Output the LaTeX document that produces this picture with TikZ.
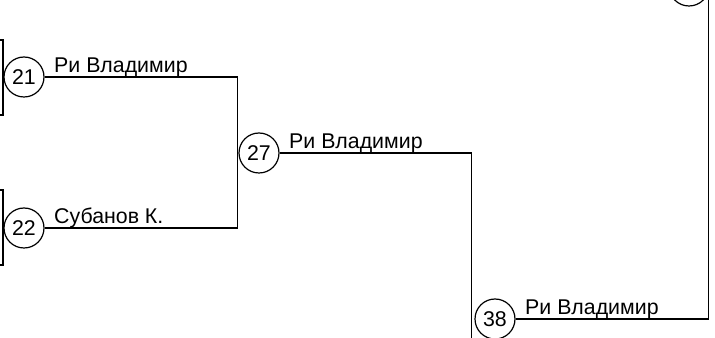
\documentclass[tikz,border=0pt]{standalone}
\usepackage{fontspec}
\setmainfont{Liberation Sans}
\usetikzlibrary{positioning}
\tikzset{every picture/.style={line width=0.9pt}}

\begin{document}
\begin{tikzpicture}[x=0.75pt,y=0.75pt,yscale=-1,xscale=1,
  match/.style={draw, circle, minimum size=30pt, inner sep=0pt, font=\fontsize{16}{19}\selectfont},
  player/.style={anchor=base west, inner sep=0.75pt, font=\fontsize{16}{19}\selectfont}]
\useasboundingbox (0,0) rectangle (715,338);
\clip (0,0) rectangle (715,338);

%Matches
\node [match] (m21) at (24,77) {21};
\node [match] (m22) at (24,228) {22};
\node [match] (m27) at (259,153) {27};
\node [match] (m38) at (495,319) {38};
\node [match] (m49) at (689,-14) {};

%Junctions
\coordinate (j27) at (237.5,153);
\coordinate (j38) at (471.5,319);
\coordinate (j49) at (708.5,-14);

%Left brackets (cut off)
\draw (0,40) -- (3,40) -- (3,115) -- (0,115);
\draw (0,190) -- (3,190) -- (3,265) -- (0,265);

%Lines
\draw (m21.east) -- (m21.east -| j27) -- (m22.east -| j27) -- (m22.east);
\draw (m27.east) -- (m27.east -| j38) -- (j38) -- (j38 |- 0,345);
\draw (m38.east) -- (m38.east -| j49) -- (j49);

%Names
\node [player] (n21) at ([xshift=6pt,yshift=-3.5pt]m21.east) {Ри Владимир};
\node [player] (n22) at ([xshift=6pt,yshift=-3.5pt]m22.east) {Субанов К.};
\node [player] (n27) at ([xshift=6pt,yshift=-3.5pt]m27.east) {Ри Владимир};
\node [player] (n38) at ([xshift=6pt,yshift=-3.5pt]m38.east) {Ри Владимир};

\end{tikzpicture}
\end{document}
